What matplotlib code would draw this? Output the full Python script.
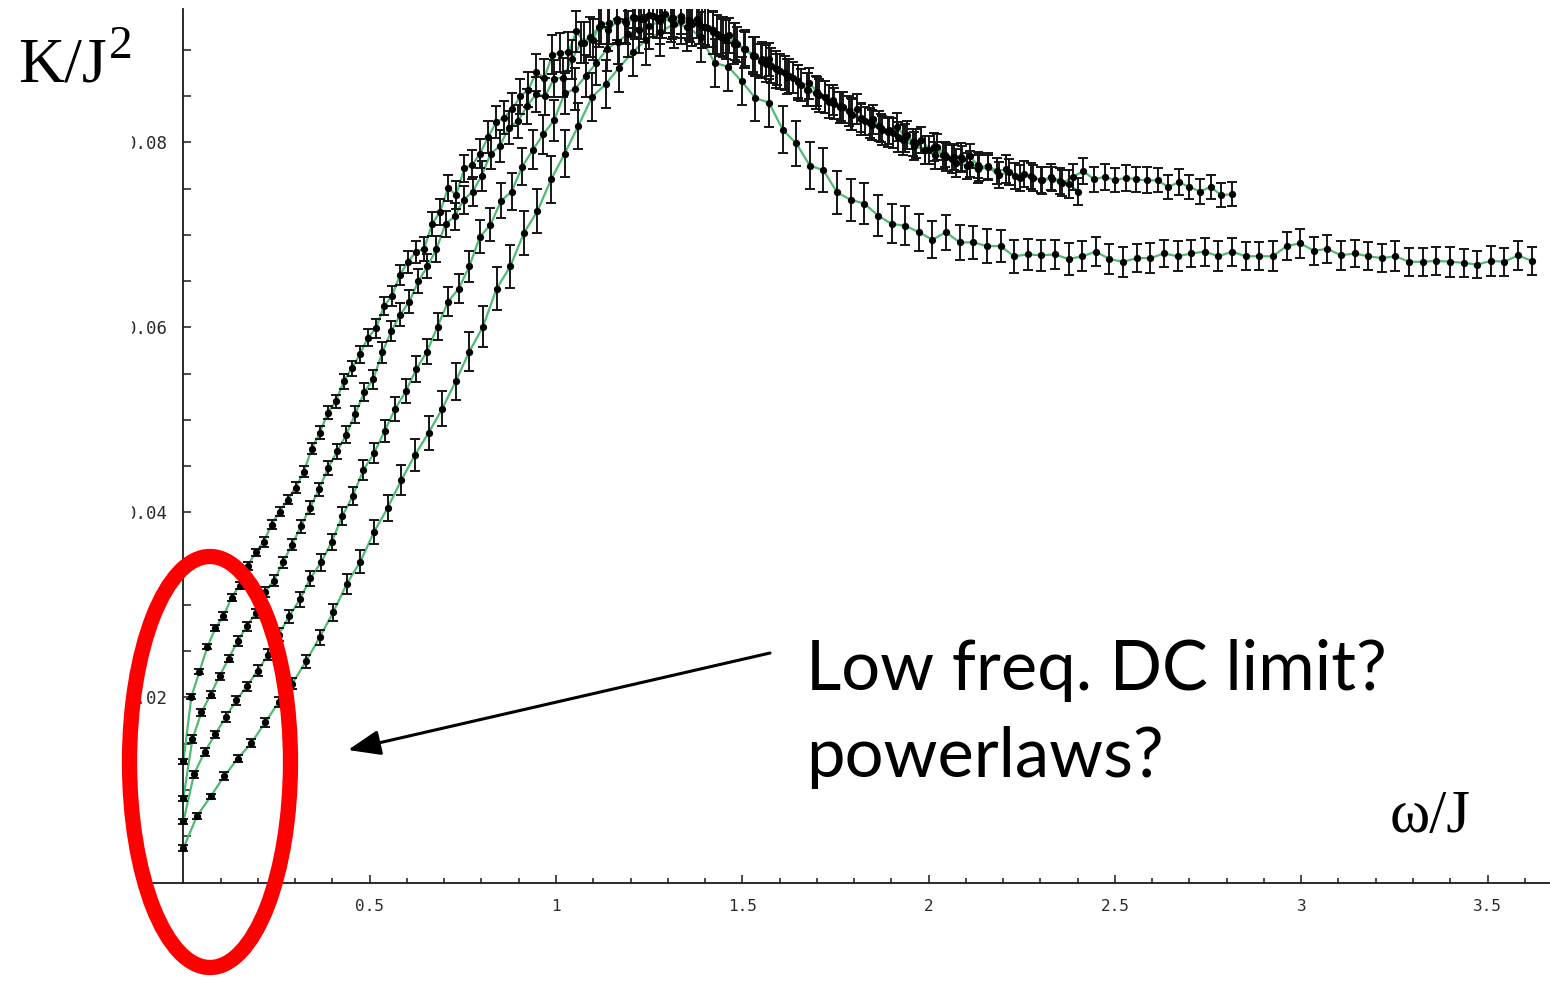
import numpy as np
import matplotlib.pyplot as plt
from matplotlib.patches import Ellipse, Rectangle

# four runs of kappa(omega)/J^2, 100 frequencies each, on different omega grids
N_POINTS = 100
STEP_A = 0.02153
STEP_B = 0.02426
STEP_C = 0.02842
STEP_D = 0.03655

KAPPA_A = [0.0131, 0.0201, 0.0228, 0.0255, 0.0275, 0.0288, 0.0308, 0.0321, 0.0342, 0.0357,
           0.0368, 0.0387, 0.0401, 0.0414, 0.0427, 0.0444, 0.0469, 0.0486, 0.0508, 0.0520,
           0.0542, 0.0556, 0.0571, 0.0589, 0.0599, 0.0623, 0.0634, 0.0657, 0.0671, 0.0682,
           0.0685, 0.0712, 0.0725, 0.0751, 0.0743, 0.0772, 0.0776, 0.0788, 0.0806, 0.0822,
           0.0827, 0.0836, 0.0850, 0.0857, 0.0876, 0.0870, 0.0895, 0.0897, 0.0898, 0.0920,
           0.0908, 0.0911, 0.0928, 0.0929, 0.0933, 0.0931, 0.0936, 0.0934, 0.0938, 0.0935,
           0.0939, 0.0935, 0.0937, 0.0932, 0.0933, 0.0925, 0.0922, 0.0914, 0.0916, 0.0906,
           0.0901, 0.0895, 0.0888, 0.0890, 0.0879, 0.0875, 0.0870, 0.0862, 0.0864, 0.0855,
           0.0849, 0.0846, 0.0839, 0.0834, 0.0836, 0.0823, 0.0825, 0.0816, 0.0813, 0.0817,
           0.0805, 0.0800, 0.0803, 0.0792, 0.0795, 0.0787, 0.0784, 0.0782, 0.0785, 0.0776]
ERR_A = [0.0003, 0.0003, 0.0003, 0.0003, 0.0003, 0.0004, 0.0004, 0.0004, 0.0004, 0.0004,
         0.0005, 0.0005, 0.0005, 0.0005, 0.0006, 0.0006, 0.0006, 0.0007, 0.0007, 0.0007,
         0.0008, 0.0008, 0.0009, 0.0009, 0.0010, 0.0010, 0.0011, 0.0011, 0.0012, 0.0012,
         0.0013, 0.0013, 0.0014, 0.0014, 0.0015, 0.0015, 0.0016, 0.0016, 0.0017, 0.0017,
         0.0018, 0.0018, 0.0019, 0.0019, 0.0020, 0.0020, 0.0021, 0.0021, 0.0021, 0.0022,
         0.0022, 0.0022, 0.0022, 0.0023, 0.0022, 0.0023, 0.0022, 0.0022, 0.0021, 0.0022,
         0.0021, 0.0021, 0.0020, 0.0021, 0.0020, 0.0020, 0.0019, 0.0020, 0.0019, 0.0019,
         0.0018, 0.0019, 0.0018, 0.0018, 0.0017, 0.0018, 0.0017, 0.0017, 0.0017, 0.0016,
         0.0017, 0.0016, 0.0016, 0.0016, 0.0016, 0.0015, 0.0016, 0.0015, 0.0015, 0.0015,
         0.0015, 0.0015, 0.0014, 0.0015, 0.0014, 0.0014, 0.0014, 0.0014, 0.0013, 0.0014]

KAPPA_B = [0.0091, 0.0155, 0.0184, 0.0203, 0.0223, 0.0242, 0.0261, 0.0277, 0.0291, 0.0314,
           0.0326, 0.0346, 0.0365, 0.0385, 0.0405, 0.0425, 0.0448, 0.0466, 0.0484, 0.0506,
           0.0530, 0.0544, 0.0573, 0.0596, 0.0614, 0.0628, 0.0650, 0.0666, 0.0685, 0.0712,
           0.0720, 0.0738, 0.0747, 0.0764, 0.0788, 0.0796, 0.0816, 0.0823, 0.0839, 0.0852,
           0.0850, 0.0869, 0.0870, 0.0890, 0.0908, 0.0914, 0.0925, 0.0922, 0.0931, 0.0929,
           0.0935, 0.0933, 0.0937, 0.0936, 0.0934, 0.0936, 0.0931, 0.0929, 0.0924, 0.0917,
           0.0911, 0.0909, 0.0901, 0.0894, 0.0890, 0.0883, 0.0877, 0.0872, 0.0866, 0.0857,
           0.0854, 0.0849, 0.0842, 0.0838, 0.0830, 0.0827, 0.0821, 0.0818, 0.0811, 0.0806,
           0.0808, 0.0799, 0.0792, 0.0795, 0.0786, 0.0782, 0.0784, 0.0777, 0.0773, 0.0775,
           0.0769, 0.0771, 0.0764, 0.0766, 0.0762, 0.0759, 0.0763, 0.0758, 0.0755, 0.0747]
ERR_B = [0.0003, 0.0004, 0.0004, 0.0004, 0.0004, 0.0004, 0.0005, 0.0005, 0.0005, 0.0005,
         0.0006, 0.0006, 0.0006, 0.0007, 0.0007, 0.0007, 0.0008, 0.0008, 0.0009, 0.0009,
         0.0010, 0.0010, 0.0011, 0.0011, 0.0012, 0.0012, 0.0013, 0.0013, 0.0014, 0.0014,
         0.0015, 0.0015, 0.0016, 0.0016, 0.0017, 0.0017, 0.0018, 0.0018, 0.0019, 0.0019,
         0.0020, 0.0020, 0.0021, 0.0021, 0.0022, 0.0022, 0.0022, 0.0023, 0.0023, 0.0023,
         0.0023, 0.0024, 0.0023, 0.0023, 0.0022, 0.0023, 0.0022, 0.0022, 0.0021, 0.0021,
         0.0021, 0.0020, 0.0020, 0.0020, 0.0019, 0.0019, 0.0019, 0.0018, 0.0018, 0.0018,
         0.0018, 0.0017, 0.0017, 0.0017, 0.0017, 0.0016, 0.0016, 0.0016, 0.0016, 0.0016,
         0.0015, 0.0016, 0.0015, 0.0015, 0.0015, 0.0015, 0.0015, 0.0014, 0.0015, 0.0014,
         0.0014, 0.0015, 0.0014, 0.0014, 0.0014, 0.0015, 0.0014, 0.0014, 0.0015, 0.0015]

KAPPA_C = [0.0066, 0.0117, 0.0141, 0.0160, 0.0179, 0.0197, 0.0212, 0.0229, 0.0246, 0.0268,
           0.0288, 0.0306, 0.0329, 0.0346, 0.0368, 0.0396, 0.0418, 0.0446, 0.0464, 0.0488,
           0.0512, 0.0531, 0.0555, 0.0574, 0.0601, 0.0628, 0.0642, 0.0666, 0.0698, 0.0711,
           0.0737, 0.0747, 0.0774, 0.0792, 0.0809, 0.0824, 0.0853, 0.0858, 0.0872, 0.0886,
           0.0901, 0.0909, 0.0917, 0.0922, 0.0926, 0.0931, 0.0933, 0.0931, 0.0928, 0.0925,
           0.0919, 0.0914, 0.0907, 0.0901, 0.0893, 0.0885, 0.0879, 0.0871, 0.0865, 0.0857,
           0.0851, 0.0844, 0.0838, 0.0831, 0.0825, 0.0819, 0.0813, 0.0810, 0.0803, 0.0796,
           0.0792, 0.0786, 0.0784, 0.0778, 0.0775, 0.0771, 0.0773, 0.0765, 0.0768, 0.0762,
           0.0764, 0.0759, 0.0761, 0.0756, 0.0763, 0.0769, 0.0760, 0.0763, 0.0759, 0.0762,
           0.0760, 0.0759, 0.0759, 0.0752, 0.0757, 0.0752, 0.0747, 0.0752, 0.0743, 0.0744]
ERR_C = [0.0003, 0.0004, 0.0004, 0.0004, 0.0005, 0.0005, 0.0005, 0.0006, 0.0006, 0.0007,
         0.0007, 0.0008, 0.0008, 0.0009, 0.0009, 0.0010, 0.0010, 0.0011, 0.0011, 0.0012,
         0.0013, 0.0013, 0.0014, 0.0014, 0.0015, 0.0016, 0.0016, 0.0017, 0.0018, 0.0018,
         0.0019, 0.0020, 0.0020, 0.0021, 0.0021, 0.0022, 0.0022, 0.0023, 0.0023, 0.0024,
         0.0024, 0.0024, 0.0025, 0.0025, 0.0025, 0.0025, 0.0024, 0.0024, 0.0024, 0.0023,
         0.0023, 0.0022, 0.0022, 0.0021, 0.0021, 0.0020, 0.0020, 0.0019, 0.0019, 0.0018,
         0.0018, 0.0018, 0.0017, 0.0017, 0.0017, 0.0016, 0.0016, 0.0016, 0.0016, 0.0015,
         0.0015, 0.0015, 0.0015, 0.0015, 0.0014, 0.0015, 0.0014, 0.0014, 0.0014, 0.0014,
         0.0014, 0.0014, 0.0013, 0.0014, 0.0014, 0.0014, 0.0013, 0.0014, 0.0013, 0.0014,
         0.0013, 0.0014, 0.0013, 0.0013, 0.0014, 0.0013, 0.0014, 0.0013, 0.0013, 0.0013]

KAPPA_D = [0.0037, 0.0072, 0.0093, 0.0115, 0.0134, 0.0151, 0.0173, 0.0195, 0.0215, 0.0239,
           0.0265, 0.0292, 0.0323, 0.0347, 0.0379, 0.0405, 0.0435, 0.0462, 0.0486, 0.0512,
           0.0542, 0.0574, 0.0601, 0.0642, 0.0666, 0.0702, 0.0726, 0.0760, 0.0788, 0.0818,
           0.0849, 0.0863, 0.0881, 0.0898, 0.0911, 0.0919, 0.0928, 0.0925, 0.0914, 0.0886,
           0.0882, 0.0866, 0.0848, 0.0843, 0.0814, 0.0799, 0.0775, 0.0770, 0.0746, 0.0738,
           0.0734, 0.0721, 0.0712, 0.0710, 0.0703, 0.0695, 0.0703, 0.0692, 0.0692, 0.0688,
           0.0688, 0.0677, 0.0679, 0.0678, 0.0679, 0.0674, 0.0677, 0.0682, 0.0674, 0.0671,
           0.0675, 0.0675, 0.0680, 0.0677, 0.0680, 0.0682, 0.0677, 0.0682, 0.0677, 0.0677,
           0.0677, 0.0688, 0.0691, 0.0683, 0.0685, 0.0678, 0.0680, 0.0677, 0.0675, 0.0677,
           0.0671, 0.0671, 0.0672, 0.0671, 0.0670, 0.0668, 0.0672, 0.0671, 0.0678, 0.0672]
ERR_D = [0.0003, 0.0003, 0.0003, 0.0004, 0.0004, 0.0004, 0.0005, 0.0005, 0.0006, 0.0007,
         0.0008, 0.0009, 0.0011, 0.0012, 0.0013, 0.0014, 0.0016, 0.0017, 0.0018, 0.0019,
         0.0020, 0.0021, 0.0022, 0.0023, 0.0023, 0.0024, 0.0024, 0.0025, 0.0025, 0.0025,
         0.0026, 0.0026, 0.0026, 0.0026, 0.0027, 0.0026, 0.0026, 0.0026, 0.0027, 0.0026,
         0.0026, 0.0026, 0.0025, 0.0026, 0.0025, 0.0024, 0.0025, 0.0024, 0.0023, 0.0023,
         0.0022, 0.0022, 0.0021, 0.0021, 0.0020, 0.0020, 0.0019, 0.0019, 0.0018, 0.0018,
         0.0017, 0.0018, 0.0017, 0.0017, 0.0016, 0.0017, 0.0016, 0.0016, 0.0016, 0.0016,
         0.0015, 0.0016, 0.0015, 0.0016, 0.0015, 0.0015, 0.0016, 0.0015, 0.0015, 0.0015,
         0.0016, 0.0015, 0.0016, 0.0015, 0.0015, 0.0016, 0.0015, 0.0015, 0.0015, 0.0016,
         0.0015, 0.0015, 0.0015, 0.0016, 0.0015, 0.0015, 0.0016, 0.0015, 0.0016, 0.0015]

X_MAJOR = [0.5, 1, 1.5, 2, 2.5, 3, 3.5]
X_LABELS = ["0.5", "1", "1.5", "2", "2.5", "3", "3.5"]
Y_MAJOR = [0.02, 0.04, 0.06, 0.08]
Y_LABELS = ["0.02", "0.04", "0.06", "0.08"]

GREEN = "#4fba72"
W, H = 1550, 981


def draw_run(ax, step, kappa, err):
    omega = np.arange(N_POINTS) * step
    ax.plot(omega, kappa, color=GREEN, lw=1.6, zorder=2)
    ax.errorbar(omega, kappa, yerr=err, fmt="o", ms=4.2, color="black",
                ecolor="#151515", elinewidth=1.4, capsize=3.8, capthick=1.4,
                zorder=3)


fig = plt.figure(figsize=(W / 100, H / 100), dpi=100)
fig.patch.set_facecolor("white")

# axes box in pixels: x from 150 to the right edge, y from 9 to 882.5
ax = fig.add_axes([150 / W, (H - 882.5) / H, 1 - 150 / W, (882.5 - 9) / H])
ax.set_xlim(-0.0896, 3.6677)
ax.set_ylim(0, 0.09443)

for step, kappa, err in [(STEP_D, KAPPA_D, ERR_D), (STEP_C, KAPPA_C, ERR_C),
                         (STEP_B, KAPPA_B, ERR_B), (STEP_A, KAPPA_A, ERR_A)]:
    draw_run(ax, step, kappa, err)

# Mathematica-style axes crossing at the origin
ax.spines["top"].set_visible(False)
ax.spines["right"].set_visible(False)
ax.spines["left"].set_position(("data", 0))
for side in ["left", "bottom"]:
    ax.spines[side].set_linewidth(1.3)
    ax.spines[side].set_color("#1a1a1a")

ax.set_xticks(X_MAJOR)
ax.set_xticklabels(X_LABELS)
ax.set_xticks(np.arange(0.1, 3.65, 0.1), minor=True)
ax.set_yticks(Y_MAJOR)
ax.set_yticklabels(Y_LABELS)
ax.set_yticks(np.arange(0.005, 0.0925, 0.005), minor=True)

ax.tick_params(axis="x", which="major", direction="in", length=5.5, width=1.1,
               pad=12, labelsize=11.5, colors="#1a1a1a")
ax.tick_params(axis="x", which="minor", direction="in", length=3.5, width=1.1,
               colors="#1a1a1a")
ax.tick_params(axis="y", which="both", direction="in", length=5.5, width=1.1,
               pad=11, labelsize=12.5, colors="#1a1a1a")
for lbl in ax.get_xticklabels() + ax.get_yticklabels():
    lbl.set_fontfamily("DejaVu Sans Mono")
    lbl.set_color("#2a2a2a")

# trim the label column on the left
fig.add_artist(Rectangle((0, (H - 740) / H), 132 / W, 620 / H,
                         transform=fig.transFigure, facecolor="white",
                         edgecolor="none", zorder=5))

# axis names
kappa_name = fig.text(18 / W, (H - 82) / H, "Κ/J", fontsize=46,
                      family="Liberation Serif", va="baseline", ha="left")
renderer = fig.canvas.get_renderer()
name_box = kappa_name.get_window_extent(renderer)
fig.text((name_box.x1 + 2) / W, (H - 58) / H, "2", fontsize=34,
         family="Liberation Serif", va="baseline", ha="left")
fig.text(1390 / W, (H - 832) / H, "ω/J", fontsize=44, family="Liberation Serif",
         va="baseline", ha="left")

# annotation
fig.text(806 / W, (H - 690) / H, "Low freq. DC limit?", fontsize=49.5,
         family="Lato", va="baseline", ha="left")
fig.text(806 / W, (H - 777) / H, "powerlaws?", fontsize=49.5,
         family="Lato", va="baseline", ha="left")
ax.annotate("", xy=(348, H - 750), xycoords="figure pixels",
            xytext=(770, H - 653), textcoords="figure pixels",
            arrowprops=dict(arrowstyle="-|>,head_length=0.9,head_width=0.35",
                            color="black", lw=2.2, shrinkA=0, shrinkB=0,
                            mutation_scale=22))

fig.add_artist(Ellipse((210 / W, 1 - 762 / H), 161 / W, 411 / H,
                       transform=fig.transFigure, fill=False,
                       edgecolor="#ff0000", lw=11, zorder=6))

fig.savefig("out.png", dpi=100)
